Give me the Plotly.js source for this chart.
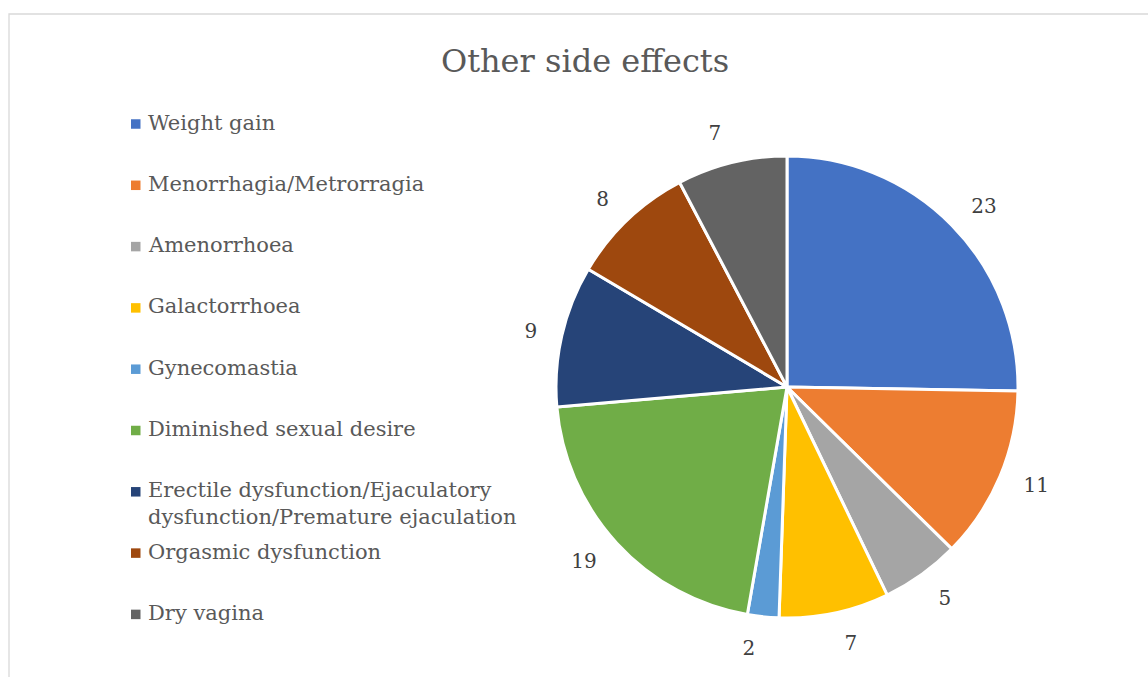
<!DOCTYPE html>
<html>
<head>
<meta charset="utf-8">
<script src="https://cdn.plot.ly/plotly-3.0.1.min.js"></script>
<style>
  html, body { margin: 0; padding: 0; background: #fff; }
  #chart { width: 1148px; height: 677px; }
</style>
</head>
<body>
<div id="chart"></div>
<script>
// Side effect categories and their counts
const categories = [
  'Weight gain',
  'Menorrhagia/Metrorragia',
  'Amenorrhoea',
  'Galactorrhoea',
  'Gynecomastia',
  'Diminished sexual desire',
  'Erectile dysfunction/Ejaculatory<br>dysfunction/Premature ejaculation',
  'Orgasmic dysfunction',
  'Dry vagina'
];
const counts = [23, 11, 5, 7, 2, 19, 9, 8, 7];
const sliceColors = ['#4472C4', '#ED7D31', '#A5A5A5', '#FFC000', '#5B9BD5',
                     '#70AD47', '#264478', '#9E480E', '#636363'];

const W = 1148, H = 677;
const px = x => x / W;
const py = y => 1 - y / H;

const FONT = 'DejaVu Serif, Liberation Serif, serif';
const TEXT_COLOR = '#595959';

// Pie geometry (pixels); value labels sit on a slightly wider ring
const cx = 787, cy = 387, R = 231, labelR = 250;

// Custom legend: a colored square and a label per category
const legendTop = 124, legendStep = 61.3;
const shapes = [];
const annotations = [];
categories.forEach((name, i) => {
  const yc = legendTop + i * legendStep;
  shapes.push({
    type: 'rect', xref: 'paper', yref: 'paper',
    x0: px(131), x1: px(140.5), y0: py(yc - 4.75), y1: py(yc + 4.75),
    fillcolor: sliceColors[i], line: { width: 0 }
  });
  annotations.push({
    xref: 'paper', yref: 'paper',
    x: px(146), y: py(yc - 15.5), xanchor: 'left', yanchor: 'top',
    text: name, showarrow: false, align: 'left',
    font: { family: FONT, size: 21, color: TEXT_COLOR }
  });
});

// Chart area outline
shapes.push({
  type: 'rect', xref: 'paper', yref: 'paper',
  x0: px(9), x1: px(1200), y0: py(14), y1: py(720),
  line: { color: '#D9D9D9', width: 1.3 }, fillcolor: 'rgba(0,0,0,0)', layer: 'below'
});

const slices = {
  type: 'pie',
  labels: categories,
  values: counts,
  sort: false,
  direction: 'clockwise',
  rotation: 0,
  marker: { colors: sliceColors, line: { color: '#FFFFFF', width: 3 } },
  textinfo: 'none',
  showlegend: false,
  automargin: false,
  domain: { x: [px(cx - R), px(cx + R)], y: [py(cy + R), py(cy - R)] },
  hoverinfo: 'label+value'
};

// Transparent companion pie that only carries the outside value labels
const valueLabels = {
  type: 'pie',
  labels: categories,
  values: counts,
  sort: false,
  direction: 'clockwise',
  rotation: 0,
  marker: { colors: categories.map(() => 'rgba(0,0,0,0)'), line: { width: 0 } },
  textinfo: 'value',
  textposition: 'outside',
  outsidetextfont: { family: FONT, size: 20, color: '#404040' },
  showlegend: false,
  automargin: false,
  hoverinfo: 'skip',
  domain: { x: [px(cx - labelR), px(cx + labelR)], y: [py(cy + labelR), py(cy - labelR)] }
};

const layout = {
  width: W, height: H,
  margin: { l: 0, r: 0, t: 0, b: 0 },
  paper_bgcolor: '#FFFFFF',
  plot_bgcolor: '#FFFFFF',
  title: {
    text: 'Other side effects',
    x: px(585), xanchor: 'center', xref: 'paper',
    y: py(61), yanchor: 'middle', yref: 'paper',
    font: { family: FONT, size: 32, color: TEXT_COLOR }
  },
  shapes: shapes,
  annotations: annotations,
  showlegend: false
};

Plotly.newPlot('chart', [slices, valueLabels], layout, { displayModeBar: false, staticPlot: true });
</script>
</body>
</html>
